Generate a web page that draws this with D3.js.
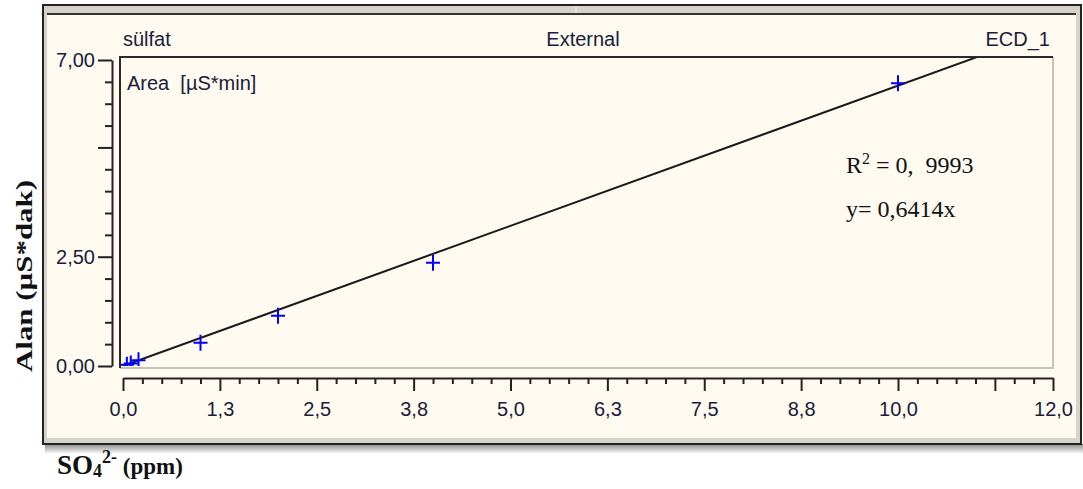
<!DOCTYPE html>
<html>
<head>
<meta charset="utf-8">
<script src="https://cdn.jsdelivr.net/npm/d3@7"></script>
<style>
  html, body { margin: 0; padding: 0; background: #fff; }
  svg { display: block; }
</style>
</head>
<body>
<div id="chart"></div>
<script>
// calibration points (sulfate standards)
var concentrations = [0.05, 0.1, 0.2, 1, 2, 4, 10];
var areas = [0.03, 0.06, 0.13, 0.53, 1.15, 2.36, 6.47];
var slope = 0.6414;

var xTickValues = [0, 1.25, 2.5, 3.75, 5, 6.25, 7.5, 8.75, 10, 11.25, 12];
var xTickLabels = ["0,0", "1,3", "2,5", "3,8", "5,0", "6,3", "7,5", "8,8", "10,0", "", "12,0"];
var yTickValues = [0, 2.5, 5, 7];
var yTickLabels = ["0,00", "2,50", "", "7,00"];

var W = 1083, H = 489;
var cream = "#fefaf0", band = "#d6d2c8", ink = "#1b1b3a";
var sans = "'Liberation Sans', Arial, sans-serif";
var serif = "'Liberation Serif', 'Times New Roman', serif";

var svg = d3.select("#chart")
        .append("svg")
        .attr("width", W)
        .attr("height", H);

var defs = svg.append("defs");
var grad = defs.append("linearGradient")
        .attr("id", "shadow")
        .attr("x1", 0).attr("y1", 0).attr("x2", 0).attr("y2", 1);
grad.append("stop").attr("offset", "0%").attr("stop-color", "#8a8a8a");
grad.append("stop").attr("offset", "100%").attr("stop-color", "#ffffff");

// window frame
svg.append("rect").attr("x", 45).attr("y", 444).attr("width", 1038).attr("height", 10)
        .style("fill", "url(#shadow)");
svg.append("rect").attr("x", 43).attr("y", 5).attr("width", 1038).attr("height", 439)
        .style("fill", band).attr("stroke", "#222").attr("stroke-width", 2);
svg.append("rect").attr("x", 47).attr("y", 14).attr("width", 1029).attr("height", 424)
        .style("fill", cream);
svg.append("line").attr("x1", 47).attr("x2", 1076).attr("y1", 14).attr("y2", 14)
        .attr("stroke", "#333").attr("stroke-width", 2);
svg.append("line").attr("x1", 576).attr("x2", 576).attr("y1", 6).attr("y2", 13)
        .attr("stroke", "#f2f0ea").attr("stroke-width", 1);

// scales
var x = d3.scaleLinear().domain([0, 12]).range([123, 1053]);
var y = d3.scaleLinear().domain([0, 7]).range([366, 60]);

// plot box
var box = {left: 120, top: 57, right: 1053, bottom: 368};
defs.append("clipPath").attr("id", "plotclip")
        .append("rect")
        .attr("x", box.left + 1).attr("y", box.top + 1)
        .attr("width", box.right - box.left - 2).attr("height", box.bottom - box.top - 3);

svg.append("path")
        .attr("d", "M" + box.left + "," + box.bottom + "H" + box.right + "V" + box.top)
        .attr("fill", "none").attr("stroke", "#c6c2b8").attr("stroke-width", 2);
svg.append("path")
        .attr("d", "M" + box.left + "," + box.bottom + "V" + box.top + "H" + box.right)
        .attr("fill", "none").attr("stroke", "#2a2a2a").attr("stroke-width", 2);

// x axis
var xMinor = d3.range(0, 12.001, 0.25).filter(function (d) {
    return xTickValues.indexOf(d) < 0;
});
svg.append("g")
        .attr("transform", "translate(0,378)")
        .call(d3.axisBottom(x).tickValues(xMinor).tickSize(6).tickSizeOuter(0).tickFormat(""))
        .call(function (g) { g.select(".domain").remove(); });
var xAxis = svg.append("g")
        .attr("transform", "translate(0,378)")
        .call(d3.axisBottom(x)
                .tickValues(xTickValues)
                .tickSize(13)
                .tickSizeOuter(0)
                .tickPadding(10)
                .tickFormat(function (d, i) { return xTickLabels[i]; }));

// y axis
var yMinor = d3.range(0, 7.001, 0.5).filter(function (d) {
    return yTickValues.indexOf(d) < 0;
});
svg.append("g")
        .attr("transform", "translate(112,0)")
        .call(d3.axisLeft(y).tickValues(yMinor).tickSize(7).tickSizeOuter(0).tickFormat(""))
        .call(function (g) { g.select(".domain").remove(); });
var yAxis = svg.append("g")
        .attr("transform", "translate(112,0)")
        .call(d3.axisLeft(y)
                .tickValues(yTickValues)
                .tickSize(14)
                .tickSizeOuter(0)
                .tickPadding(3)
                .tickFormat(function (d, i) { return yTickLabels[i]; }));

svg.selectAll(".domain, .tick line").attr("stroke", "#222").attr("stroke-width", 2);
svg.selectAll(".tick text")
        .attr("font-family", sans)
        .attr("font-size", 20)
        .attr("fill", ink);
xAxis.selectAll(".tick text").attr("dy", "0.75em");

// fitted line and points
var plot = svg.append("g").attr("clip-path", "url(#plotclip)");
plot.append("path")
        .datum([0, 12])
        .attr("d", d3.line()
                .x(function (d) { return x(d); })
                .y(function (d) { return y(slope * d); }))
        .attr("fill", "none")
        .attr("stroke", "#1a1a1a")
        .attr("stroke-width", 2);

plot.selectAll(".pt")
        .data(concentrations)
        .enter()
        .append("path")
        .attr("class", "pt")
        .attr("transform", function (d, i) {
            return "translate(" + x(d) + "," + y(areas[i]) + ")";
        })
        .attr("d", "M-7,0H7M0,-8V8")
        .attr("stroke", "#0000ff")
        .attr("stroke-width", 2);

// header texts
function label(txt, px, py, anchor) {
    return svg.append("text")
            .attr("x", px).attr("y", py)
            .attr("text-anchor", anchor || "start")
            .attr("font-family", sans)
            .attr("font-size", 20)
            .attr("fill", ink)
            .style("white-space", "pre")
            .text(txt);
}
label("sülfat", 123, 46);
label("External", 583, 46, "middle");
label("ECD_1", 1050, 46, "end");
label("Area  [µS*min]", 127, 90);

// equation
var r2 = svg.append("text")
        .attr("x", 846).attr("y", 173)
        .attr("font-family", serif)
        .attr("font-size", 24)
        .attr("fill", "#111")
        .style("white-space", "pre");
r2.append("tspan").text("R");
r2.append("tspan").attr("font-size", 16).attr("dy", -9).text("2");
r2.append("tspan").attr("dy", 9).text(" = 0,  9993");

svg.append("text")
        .attr("x", 846).attr("y", 217)
        .attr("font-family", serif)
        .attr("font-size", 24)
        .attr("fill", "#111")
        .text("y= 0,6414x");

// axis titles
svg.append("text")
        .attr("transform", "translate(32,276) rotate(-90)")
        .attr("text-anchor", "middle")
        .attr("font-family", serif)
        .attr("font-weight", "bold")
        .attr("font-size", 23)
        .attr("textLength", 192)
        .attr("lengthAdjust", "spacingAndGlyphs")
        .attr("fill", "#111")
        .text("Alan (µS*dak)");

var xt = svg.append("text")
        .attr("x", 57).attr("y", 474)
        .attr("font-family", serif)
        .attr("font-weight", "bold")
        .attr("font-size", 27)
        .attr("fill", "#111")
        .style("white-space", "pre");
xt.append("tspan").text("SO");
xt.append("tspan").attr("font-size", 18).attr("dy", 3).text("4");
xt.append("tspan").attr("font-size", 18).attr("dy", -14).text("2-");
xt.append("tspan").attr("font-size", 23).attr("dy", 11).text(" (ppm)");
</script>
</body>
</html>
